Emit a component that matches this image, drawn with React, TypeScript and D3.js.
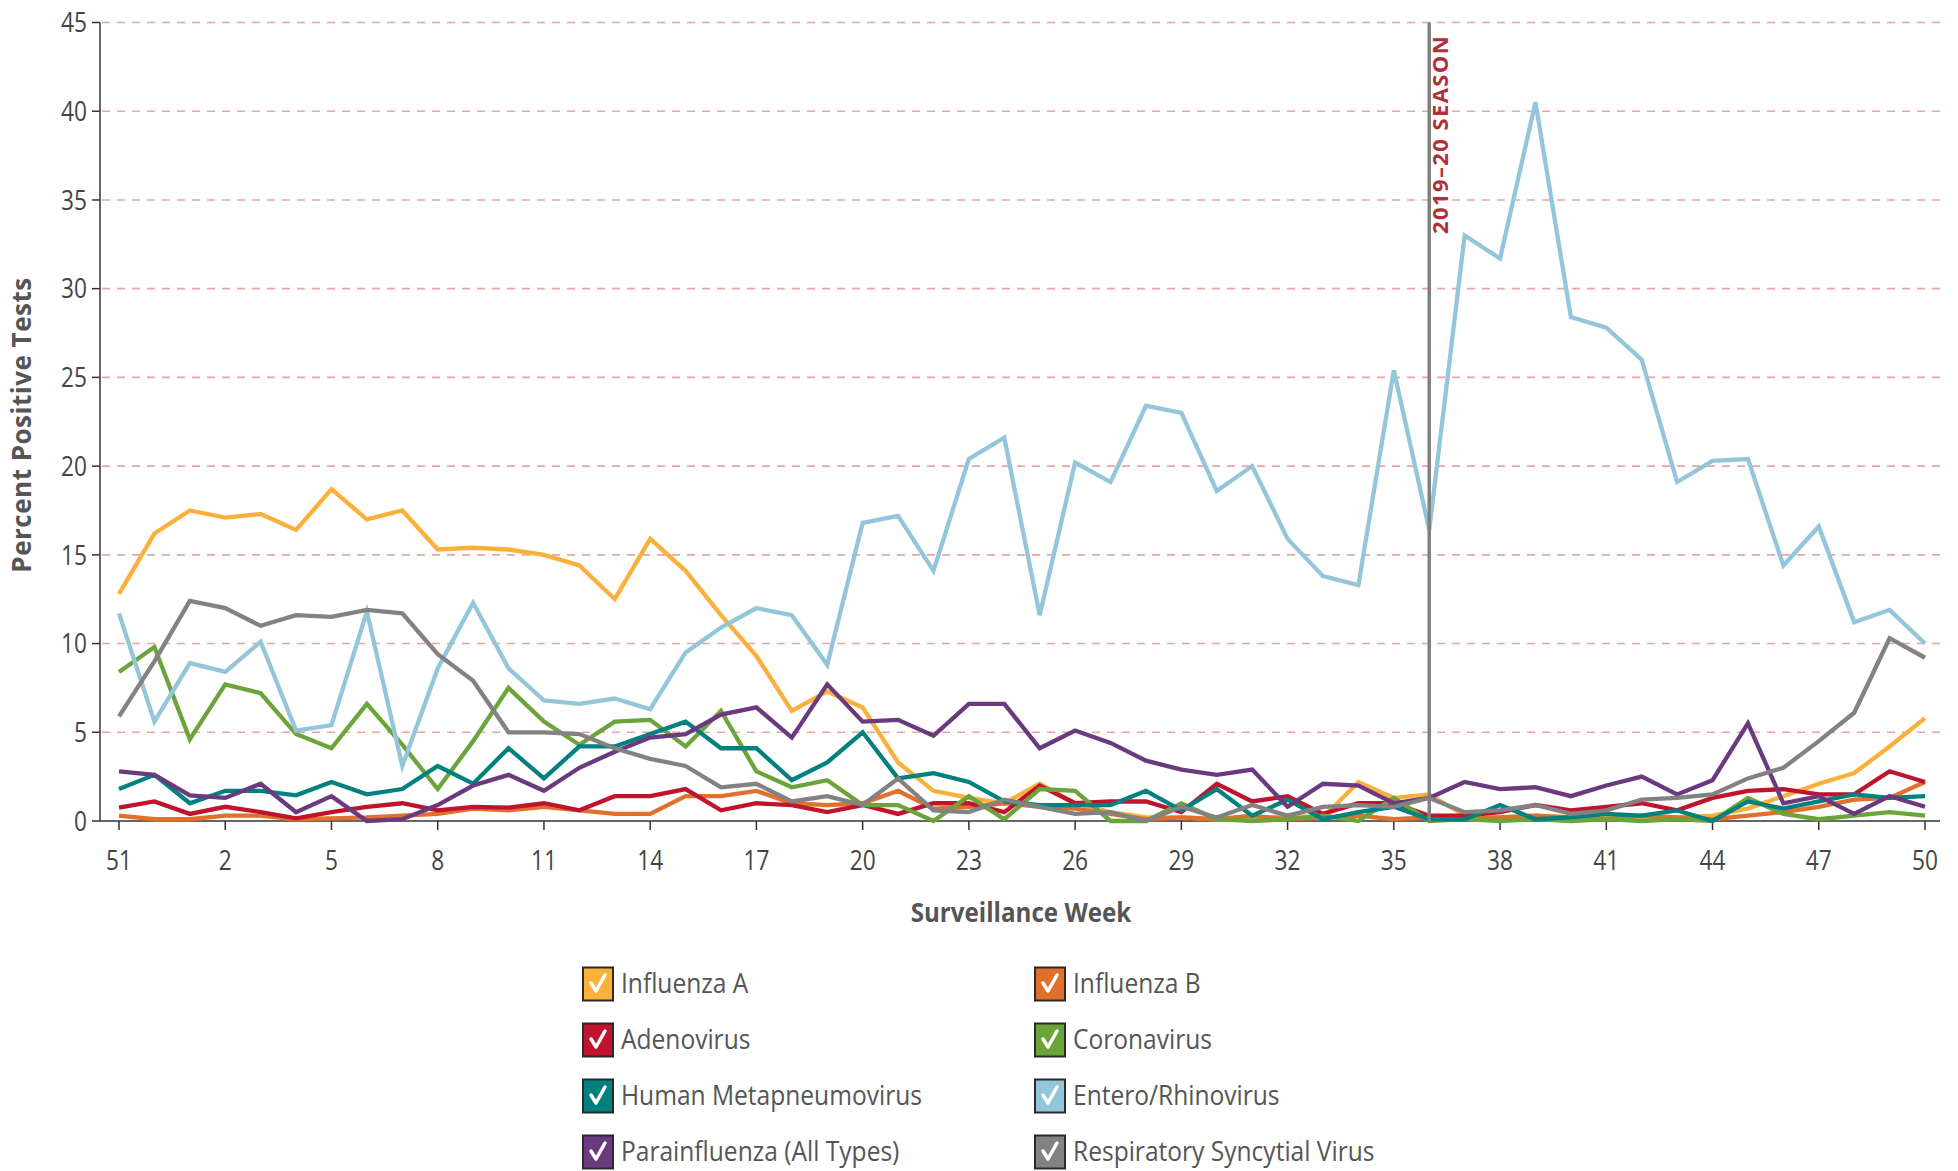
import React from "react";
import * as d3 from "d3";

const weeks = [51, 52, 1, 2, 3, 4, 5, 6, 7, 8, 9, 10, 11, 12, 13, 14, 15, 16, 17, 18, 19, 20, 21, 22, 23, 24, 25, 26, 27, 28, 29, 30, 31, 32, 33, 34, 35, 36, 37, 38, 39, 40, 41, 42, 43, 44, 45, 46, 47, 48, 49, 50];
const yTicks = [0, 5, 10, 15, 20, 25, 30, 35, 40, 45];
const xTickWeeks = [51, 2, 5, 8, 11, 14, 17, 20, 23, 26, 29, 32, 35, 38, 41, 44, 47, 50];
const seasonWeek = 36;

const influenzaA = [12.8, 16.2, 17.5, 17.1, 17.3, 16.4, 18.7, 17.0, 17.5, 15.3, 15.4, 15.3, 15.0, 14.4, 12.5, 15.9, 14.1, 11.6, 9.3, 6.2, 7.3, 6.4, 3.3, 1.7, 1.3, 1.0, 2.1, 1.0, 0.5, 0.2, 0.2, 0.1, 0.1, 0.3, 0.2, 2.2, 1.3, 1.5, 0.3, 0.2, 0.3, 0.2, 0.3, 0.2, 0.2, 0.3, 0.7, 1.4, 2.1, 2.7, 4.2, 5.8];
const influenzaB = [0.3, 0.1, 0.1, 0.3, 0.3, 0.1, 0.15, 0.2, 0.3, 0.4, 0.7, 0.6, 0.8, 0.6, 0.4, 0.4, 1.4, 1.4, 1.7, 1.0, 0.9, 1.0, 1.7, 0.7, 0.8, 1.0, 0.8, 0.7, 0.4, 0.1, 0.2, 0.1, 0.3, 0.1, 0.2, 0.3, 0.1, 0.2, 0.1, 0.2, 0.3, 0.2, 0.1, 0.3, 0.2, 0.1, 0.3, 0.5, 0.8, 1.2, 1.3, 2.2];
const adenovirus = [0.75, 1.1, 0.4, 0.8, 0.5, 0.15, 0.5, 0.8, 1.0, 0.6, 0.8, 0.75, 1.0, 0.6, 1.4, 1.4, 1.8, 0.6, 1.0, 0.9, 0.5, 0.9, 0.4, 1.0, 1.0, 0.5, 2.0, 1.0, 1.1, 1.1, 0.5, 2.1, 1.1, 1.4, 0.4, 1.0, 1.0, 0.3, 0.3, 0.5, 0.9, 0.6, 0.8, 1.0, 0.6, 1.3, 1.7, 1.8, 1.5, 1.5, 2.8, 2.2];
const coronavirus = [8.4, 9.8, 4.6, 7.7, 7.2, 4.9, 4.1, 6.6, 4.3, 1.8, 4.5, 7.5, 5.6, 4.3, 5.6, 5.7, 4.2, 6.2, 2.8, 1.9, 2.3, 0.9, 0.9, 0.0, 1.4, 0.1, 1.8, 1.7, 0.0, 0.0, 1.0, 0.1, 0.0, 0.1, 0.3, 0.0, 1.3, 0.0, 0.1, 0.0, 0.1, 0.0, 0.1, 0.0, 0.1, 0.0, 1.3, 0.4, 0.1, 0.3, 0.5, 0.3];
const hmpv = [1.8, 2.6, 1.0, 1.7, 1.7, 1.45, 2.2, 1.5, 1.8, 3.1, 2.1, 4.1, 2.4, 4.2, 4.2, 4.9, 5.6, 4.1, 4.1, 2.3, 3.3, 5.0, 2.4, 2.7, 2.2, 1.1, 0.9, 0.9, 0.9, 1.7, 0.6, 1.8, 0.3, 1.2, 0.1, 0.5, 0.8, 0.1, 0.1, 0.9, 0.1, 0.2, 0.4, 0.3, 0.6, 0.0, 1.1, 0.7, 1.1, 1.5, 1.3, 1.4];
const enteroRhino = [11.7, 5.6, 8.9, 8.4, 10.1, 5.1, 5.4, 11.8, 3.1, 8.6, 12.3, 8.6, 6.8, 6.6, 6.9, 6.3, 9.5, 10.9, 12.0, 11.6, 8.8, 16.8, 17.2, 14.1, 20.4, 21.6, 11.6, 20.2, 19.1, 23.4, 23.0, 18.6, 20.0, 15.9, 13.8, 13.3, 25.4, 16.4, 33.0, 31.7, 40.5, 28.4, 27.8, 26.0, 19.1, 20.3, 20.4, 14.4, 16.6, 11.2, 11.9, 10.0];
const parainfluenza = [2.8, 2.6, 1.45, 1.3, 2.1, 0.5, 1.4, 0.0, 0.1, 0.9, 2.0, 2.6, 1.7, 3.0, 3.9, 4.7, 4.9, 6.0, 6.4, 4.7, 7.7, 5.6, 5.7, 4.8, 6.6, 6.6, 4.1, 5.1, 4.4, 3.4, 2.9, 2.6, 2.9, 0.8, 2.1, 2.0, 1.0, 1.3, 2.2, 1.8, 1.9, 1.4, 2.0, 2.5, 1.5, 2.3, 5.5, 1.0, 1.4, 0.4, 1.4, 0.8];
const rsv = [5.9, 9.0, 12.4, 12.0, 11.0, 11.6, 11.5, 11.9, 11.7, 9.4, 7.9, 5.0, 5.0, 4.9, 4.1, 3.5, 3.1, 1.9, 2.1, 1.1, 1.4, 0.9, 2.4, 0.6, 0.5, 1.2, 0.8, 0.4, 0.5, 0.0, 0.8, 0.2, 0.9, 0.3, 0.8, 0.9, 0.8, 1.3, 0.5, 0.6, 0.9, 0.4, 0.6, 1.2, 1.3, 1.5, 2.4, 3.0, 4.5, 6.1, 10.3, 9.2];

const seriesNames = ["Influenza A", "Influenza B", "Adenovirus", "Coronavirus", "Human Metapneumovirus", "Entero/Rhinovirus", "Parainfluenza (All Types)", "Respiratory Syncytial Virus"];
const seriesColors = ["#FBB03B", "#E0702A", "#C0142E", "#6BA53A", "#00807E", "#93C6DB", "#6B3A7E", "#828282"];
const seriesValues = [influenzaA, influenzaB, adenovirus, coronavirus, hmpv, enteroRhino, parainfluenza, rsv];
const legendOrder = [0, 1, 2, 3, 4, 5, 6, 7];

const W = 1958;
const H = 1171;
const axisX = 100;
const plotRight = 1940;
const tickFont = "'Open Sans', sans-serif";

const sx = (cx: number, s: number) => `translate(${cx},0) scale(${s},1) translate(${-cx},0)`;

export default function App() {
  const x = d3.scaleLinear().domain([0, weeks.length - 1]).range([119, 1925]);
  const y = d3.scaleLinear().domain([0, 45]).range([821, 22.5]);
  const line = d3
    .line<number>()
    .x((_, i) => x(i))
    .y((d) => y(d));
  const seasonX = x(weeks.indexOf(seasonWeek));

  return (
    <div style={{ position: "absolute", left: 0, top: 0, width: W, height: H, background: "#fff" }}>
      <svg width={W} height={H} style={{ display: "block" }}>
        {yTicks.filter((t) => t > 0).map((t) => (
          <line key={"g" + t} x1={axisX + 2} x2={plotRight} y1={y(t)} y2={y(t)} stroke="#EBA3A6" strokeWidth={1.6} strokeDasharray="8,7" />
        ))}
        <line x1={axisX} x2={axisX} y1={y(45)} y2={y(0)} stroke="#333" strokeWidth={1.5} />
        {yTicks.map((t) => (
          <g key={"y" + t}>
            <line x1={axisX - 8} x2={axisX} y1={y(t)} y2={y(t)} stroke="#333" strokeWidth={1.5} />
            <text x={axisX - 13} y={y(t)} dy="0.36em" textAnchor="end" fontFamily={tickFont} fontSize={27} fill="#444" transform={sx(axisX - 13, 0.84)}>
              {t}
            </text>
          </g>
        ))}
        <line x1={axisX} x2={plotRight} y1={y(0)} y2={y(0)} stroke="#333" strokeWidth={1.5} />
        {xTickWeeks.map((w) => {
          const xi = x(weeks.indexOf(w));
          return (
            <g key={"x" + w}>
              <line x1={xi} x2={xi} y1={y(0)} y2={y(0) + 9} stroke="#333" strokeWidth={1.5} />
              <text x={xi} y={y(0) + 49} textAnchor="middle" fontFamily={tickFont} fontSize={27} fill="#444" transform={sx(xi, 0.84)}>
                {w}
              </text>
            </g>
          );
        })}
        <text transform={`translate(31,425) rotate(-90)`} textAnchor="middle" fontFamily={tickFont} fontWeight="bold" fontSize={26} fill="#555" letterSpacing={0.5}>
          Percent Positive Tests
        </text>
        <text x={1021} y={922} textAnchor="middle" fontFamily={tickFont} fontWeight="bold" fontSize={26} fill="#555" transform={sx(1021, 0.93)}>
          Surveillance Week
        </text>
        {seriesValues.map((vals, k) => (
          <path key={"s" + k} d={line(vals) || ""} fill="none" stroke={seriesColors[k]} strokeWidth={4.3} strokeLinejoin="miter" />
        ))}
        <line x1={seasonX} x2={seasonX} y1={y(45)} y2={y(0)} stroke="#808080" strokeWidth={3.5} />
        <text transform={`translate(${seasonX + 18.5},234) rotate(-90)`} textAnchor="start" fontFamily={tickFont} fontWeight="bold" fontSize={22} fill="#B0303A" letterSpacing={1.4}>
          2019–20  SEASON
        </text>
        {legendOrder.map((k) => {
          const col = k % 2;
          const row = Math.floor(k / 2);
          const bx = col === 0 ? 583 : 1035;
          const cy = 984 + row * 56;
          const tx = bx + 38;
          return (
            <g key={"l" + k}>
              <rect x={bx} y={cy - 16.5} width={30} height={33} fill={seriesColors[k]} stroke="#2b2b2b" strokeWidth={2} />
              <polyline points={`${bx + 8},${cy - 1} ${bx + 13},${cy + 7} ${bx + 22},${cy - 9}`} fill="none" stroke="#fff" strokeWidth={3.5} strokeLinecap="round" strokeLinejoin="round" />
              <text x={tx} y={cy} dy="0.35em" fontFamily={tickFont} fontSize={27} fill="#555" transform={sx(tx, 0.91)}>
                {seriesNames[k]}
              </text>
            </g>
          );
        })}
      </svg>
    </div>
  );
}
